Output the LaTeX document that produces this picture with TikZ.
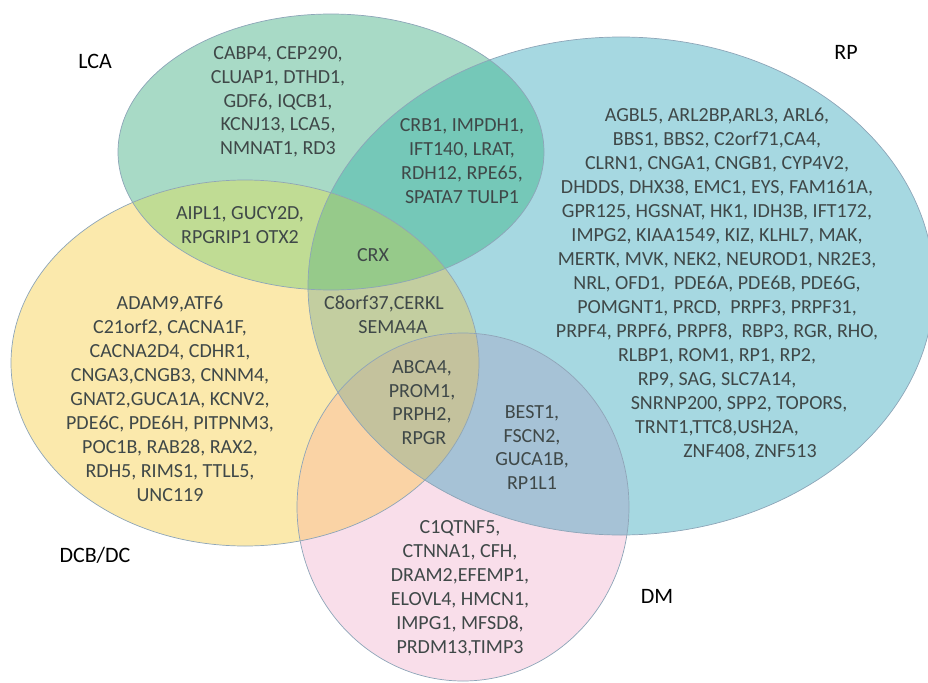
\documentclass[tikz,border=0pt]{standalone}
\usepackage{fontspec}
\setmainfont{Carlito}
\definecolor{cL}{HTML}{A8DAC6}
\definecolor{cR}{HTML}{A6D8E1}
\definecolor{cY}{HTML}{FBE9AC}
\definecolor{cM}{HTML}{F9DEEA}
\definecolor{cLR}{HTML}{75C8B8}
\definecolor{cLY}{HTML}{C0DC94}
\definecolor{cLRY}{HTML}{96CA8A}
\definecolor{cRY}{HTML}{C3CEA0}
\definecolor{cRYM}{HTML}{C4C29D}
\definecolor{cRM}{HTML}{A6C2D6}
\definecolor{cYM}{HTML}{FAD3A5}
\definecolor{outc}{HTML}{8DA5B8}
\definecolor{genec}{HTML}{3F4848}
\def\pathL{(331,152) ellipse [x radius=213pt, y radius=138pt]}
\def\pathR{(621,286) ellipse [x radius=313pt, y radius=249pt]}
\def\pathY{(245,363) ellipse [x radius=234pt, y radius=183pt]}
\def\pathM{(463,507) ellipse [x radius=166pt, y radius=174pt]}
\tikzset{
  gene/.style={font=\fontsize{20}{24}\selectfont, text=genec, inner sep=0pt, text height=13pt, text depth=0pt},
  setlabel/.style={font=\fontsize{22}{26}\selectfont, text=black, inner sep=0pt, text height=14pt, text depth=0pt},
  outl/.style={draw=outc, line width=0.7pt}
}
\begin{document}
\begin{tikzpicture}[x=1pt,y=-1pt]
\useasboundingbox (0,0) rectangle (928,682);
% base fills
\fill[cL] \pathL;
\fill[cR] \pathR;
\fill[cY] \pathY;
\fill[cM] \pathM;
% pairwise
\begin{scope}\clip \pathL; \fill[cLR] \pathR; \end{scope}
\begin{scope}\clip \pathL; \fill[cLY] \pathY; \end{scope}
\begin{scope}\clip \pathR; \fill[cRY] \pathY; \end{scope}
\begin{scope}\clip \pathR; \fill[cRM] \pathM; \end{scope}
\begin{scope}\clip \pathY; \fill[cYM] \pathM; \end{scope}
% triple
\begin{scope}\clip \pathL; \clip \pathR; \fill[cLRY] \pathY; \end{scope}
\begin{scope}\clip \pathR; \clip \pathY; \fill[cRYM] \pathM; \end{scope}
% outlines
\draw[outl] \pathL;
\draw[outl] \pathR;
\draw[outl] \pathY;
\draw[outl] \pathM;
% set labels
\node[setlabel] (labLCA) at (95,62) {LCA};
\node[setlabel] (labRP) at (846,53) {RP};
\node[setlabel] (labDCB) at (95,555) {DCB/DC};
\node[setlabel] (labDM) at (657,596) {DM};
% LCA only
\foreach \t [count=\i] in {{CABP4, CEP290,},{CLUAP1, DTHD1,},{GDF6, IQCB1,},{KCNJ13, LCA5,},{NMNAT1, RD3}}
  \node[gene] (lca\i) at (278,{53+23.8*(\i-1)}) {\t};
% LCA & RP
\foreach \t [count=\i] in {{CRB1, IMPDH1,},{IFT140, LRAT,},{RDH12, RPE65,},{SPATA7 TULP1}}
  \node[gene] (lr\i) at (462,{125+24*(\i-1)}) {\t};
% RP only
\foreach \t [count=\i] in {{AGBL5, ARL2BP,ARL3, ARL6,},{BBS1, BBS2, C2orf71,CA4,},{CLRN1, CNGA1, CNGB1, CYP4V2,},{DHDDS, DHX38, EMC1, EYS, FAM161A,},{GPR125, HGSNAT, HK1, IDH3B, IFT172,},{IMPG2, KIAA1549, KIZ, KLHL7, MAK,},{MERTK, MVK, NEK2, NEUROD1, NR2E3,},{NRL, OFD1,\ \ PDE6A, PDE6B, PDE6G,},{POMGNT1, PRCD,\ \ PRPF3, PRPF31,},{PRPF4, PRPF6, PRPF8,\ \ RBP3, RGR, RHO,},{RLBP1, ROM1, RP1, RP2,},{RP9, SAG, SLC7A14,}}
  \node[gene] (rp\i) at (717,{115+24*(\i-1)}) {\t};
\node[gene] (rp13) at (739,403) {SNRNP200, SPP2, TOPORS,};
\node[gene] (rp14) at (717,427) {TRNT1,TTC8,USH2A,};
\node[gene] (rp15) at (750,451) {ZNF408, ZNF513};
% LCA & DCB
\node[gene] (ly1) at (240,213) {AIPL1, GUCY2D,};
\node[gene] (ly2) at (240,237) {RPGRIP1 OTX2};
% LCA & RP & DCB
\node[gene] (crx) at (373,255) {CRX};
% DCB only
\foreach \t [count=\i] in {{ADAM9,ATF6},{C21orf2, CACNA1F,},{CACNA2D4, CDHR1,},{CNGA3,CNGB3, CNNM4,},{GNAT2,GUCA1A, KCNV2,},{PDE6C, PDE6H, PITPNM3,},{POC1B, RAB28, RAX2,},{RDH5, RIMS1, TTLL5,},{UNC119}}
  \node[gene] (dcb\i) at (170,{303+24*(\i-1)}) {\t};
% RP & DCB
\node[gene] (ry1) at (384,303) {C8orf37,CERKL};
\node[gene] (ry2) at (393,327) {SEMA4A};
% RP & DCB & DM
\node[gene] (rym1) at (422,367) {ABCA4,};
\node[gene] (rym2) at (422,391) {PROM1,};
\node[gene] (rym3) at (422,414) {PRPH2,};
\node[gene] (rym4) at (424,438) {RPGR};
% RP & DM
\foreach \t [count=\i] in {{BEST1,},{FSCN2,},{GUCA1B,},{RP1L1}}
  \node[gene] (rm\i) at (532,{412+23.7*(\i-1)}) {\t};
% DM only
\foreach \t [count=\i] in {{C1QTNF5,},{CTNNA1, CFH,},{DRAM2,EFEMP1,},{ELOVL4, HMCN1,},{IMPG1, MFSD8,},{PRDM13,TIMP3}}
  \node[gene] (dm\i) at (460,{527+24*(\i-1)}) {\t};
\end{tikzpicture}
\end{document}
